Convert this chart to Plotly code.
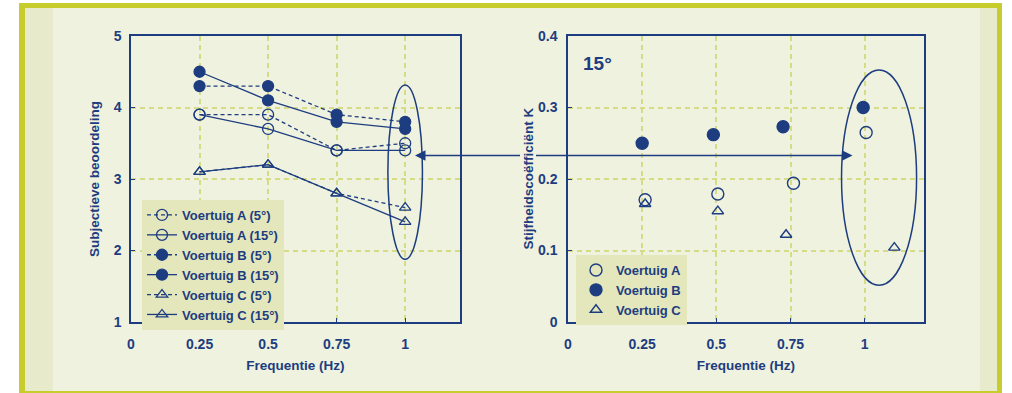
import plotly.graph_objects as go

# ---------------- data ----------------
freq = [0.25, 0.5, 0.75, 1.0]
left_names = ["Voertuig A (5°)", "Voertuig A (15°)", "Voertuig B (5°)",
              "Voertuig B (15°)", "Voertuig C (5°)", "Voertuig C (15°)"]
a_5 = [3.9, 3.9, 3.4, 3.5]
a_15 = [3.9, 3.7, 3.4, 3.4]
b_5 = [4.3, 4.3, 3.9, 3.8]
b_15 = [4.5, 4.1, 3.8, 3.7]
c_5 = [3.1, 3.2, 2.8, 2.6]
c_15 = [3.1, 3.2, 2.8, 2.4]

right_names = ["Voertuig A", "Voertuig B", "Voertuig C"]
k_a_x = [0.26, 0.505, 0.76, 1.005]
k_a = [0.171, 0.179, 0.194, 0.265]
k_b_x = [0.25, 0.49, 0.725, 0.995]
k_b = [0.25, 0.262, 0.273, 0.30]
k_c_x = [0.26, 0.505, 0.735, 1.10]
k_c = [0.165, 0.155, 0.122, 0.104]

x_ticks = [0, 0.25, 0.5, 0.75, 1]
x_ticktext = ["0", "0.25", "0.5", "0.75", "1"]
y1_ticks = [1, 2, 3, 4, 5]
y2_ticks = [0, 0.1, 0.2, 0.3, 0.4]
y2_ticktext = ["0", "0.1", "0.2", "0.3", "0.4"]

# ---------------- style ----------------
NAVY = "#1d3d80"
GRID = "#d6dc86"
PANEL = "#eff2de"
STRIP = "#e7ebcc"
BORDER = "#c6cd2c"
LEGBG = "#e3e7bb"
FONT = "Liberation Sans, Arial, sans-serif"

W, H = 1012, 393
ML, MR, MT, MB = 131, 88, 36, 71
PW, PH = W - ML - MR, H - MT - MB


def px(xp):
    return (xp - ML) / PW


def py(yp):
    return 1 - (yp - MT) / PH


fig = go.Figure()

left_series = [a_5, a_15, b_5, b_15, c_5, c_15]
symbols = ["circle-open", "circle-open", "circle", "circle", "triangle-up-open", "triangle-up-open"]
dashes = ["4px,3px", "solid"] * 3
for name, vals, sym, dash in zip(left_names, left_series, symbols, dashes):
    fig.add_trace(go.Scatter(
        x=freq, y=vals, name=name, mode="lines+markers",
        line=dict(color=NAVY, width=1.3, dash=dash),
        marker=dict(symbol=sym, size=11 if "circle" in sym else 10,
                    color=NAVY, line=dict(color=NAVY, width=1.3)),
        xaxis="x", yaxis="y", legend="legend",
    ))

for name, xs, vals, sym in zip(right_names, [k_a_x, k_b_x, k_c_x], [k_a, k_b, k_c],
                               ["circle-open", "circle", "triangle-up-open"]):
    fig.add_trace(go.Scatter(
        x=xs, y=vals, name=name, mode="markers",
        marker=dict(symbol=sym, size=12 if "circle" in sym else 10,
                    color=NAVY, line=dict(color=NAVY, width=1.4)),
        xaxis="x2", yaxis="y2", legend="legend2",
    ))

tickfont = dict(family=FONT, size=14, color=NAVY, weight="bold")
titlefont = dict(family=FONT, size=13.5, color=NAVY, weight="bold")
legfont = dict(family=FONT, size=13, color=NAVY, weight="bold")

axis_common = dict(
    showline=True, linecolor=NAVY, linewidth=1.5, mirror=True,
    showgrid=True, gridcolor=GRID, gridwidth=1.5, griddash="5px,4px",
    zeroline=False, ticks="inside", ticklen=4, tickcolor=NAVY, tickwidth=1.3,
    tickfont=tickfont,
)

left_dom = [0, px(460)]
right_dom = [px(568), 1]

fig.update_layout(
    width=W, height=H,
    margin=dict(l=ML, r=MR, t=MT, b=MB, pad=0),
    paper_bgcolor="white", plot_bgcolor="white",
    font=dict(family=FONT, color=NAVY),
    xaxis=dict(domain=left_dom, range=[0, 1.2], tickvals=x_ticks, ticktext=x_ticktext,
               ticklabelstandoff=8,
               title=dict(text="Frequentie (Hz)", font=titlefont, standoff=10),
               anchor="y", **axis_common),
    yaxis=dict(domain=[0, 1], range=[1, 5], tickvals=y1_ticks, anchor="x",
               ticklabelstandoff=5, **axis_common),
    xaxis2=dict(domain=right_dom, range=[0, 1.2], tickvals=x_ticks, ticktext=x_ticktext,
                ticklabelstandoff=8,
                title=dict(text="Frequentie (Hz)", font=titlefont, standoff=10),
                anchor="y2", **axis_common),
    yaxis2=dict(domain=[0, 1], range=[0, 0.4], tickvals=y2_ticks, ticktext=y2_ticktext,
                anchor="x2", ticklabelstandoff=6, **axis_common),
    legend=dict(x=px(142), y=py(200), xanchor="left", yanchor="top",
                bgcolor=LEGBG, borderwidth=0, font=legfont,
                tracegroupgap=0, itemwidth=30),
    legend2=dict(x=px(576), y=py(255), xanchor="left", yanchor="top",
                 bgcolor=LEGBG, borderwidth=0, font=legfont,
                 tracegroupgap=0),
    showlegend=True,
)

# background frame
shapes = [
    dict(type="rect", xref="paper", yref="paper", x0=px(19), x1=px(1002), y0=py(3), y1=py(400),
         fillcolor=BORDER, line=dict(width=0), layer="below"),
    dict(type="rect", xref="paper", yref="paper", x0=px(25), x1=px(997), y0=py(8), y1=py(391),
         fillcolor=PANEL, line=dict(width=0), layer="below"),
    dict(type="rect", xref="paper", yref="paper", x0=px(25), x1=px(53), y0=py(8), y1=py(391),
         fillcolor=STRIP, line=dict(width=0), layer="below"),
    dict(type="rect", xref="paper", yref="paper", x0=px(980), x1=px(997), y0=py(8), y1=py(391),
         fillcolor=STRIP, line=dict(width=0), layer="below"),
    # ellipses
    dict(type="circle", xref="x", yref="y", x0=0.937, x1=1.063, y0=1.877, y1=4.315,
         line=dict(color=NAVY, width=1.5)),
    dict(type="circle", xref="x2", yref="y2", x0=0.922, x1=1.175, y0=0.0513, y1=0.3524,
         line=dict(color=NAVY, width=1.5)),
]
fig.update_layout(shapes=shapes)

annotations = [
    dict(xref="x2", yref="y2", x=0.959, y=0.2329, axref="pixel", ayref="pixel",
         ax=-439, ay=0, text="", showarrow=True, arrowside="end+start",
         arrowhead=2, startarrowhead=2, arrowsize=1.4, startarrowsize=1.4,
         arrowwidth=1.5, arrowcolor=NAVY, standoff=0, startstandoff=0),
    dict(xref="paper", yref="paper", x=px(94), y=0.5, text="Subjectieve beoordeling",
         textangle=-90, showarrow=False, xanchor="center", yanchor="middle",
         font=titlefont),
    dict(xref="paper", yref="paper", x=px(527.5), y=0.5, text="Stijfheidscoëfficiënt K",
         textangle=-90, showarrow=False, xanchor="center", yanchor="middle",
         bgcolor=PANEL, borderpad=0, font=titlefont),
    dict(xref="x2", yref="y2", x=0.044, y=0.362, text="15°", showarrow=False,
         xanchor="left", yanchor="middle",
         font=dict(family=FONT, size=19, color=NAVY, weight="bold")),
]
fig.update_layout(annotations=annotations)

fig.write_html("out.html", config={"displayModeBar": False},
               post_script="document.body.style.margin='0px';")
